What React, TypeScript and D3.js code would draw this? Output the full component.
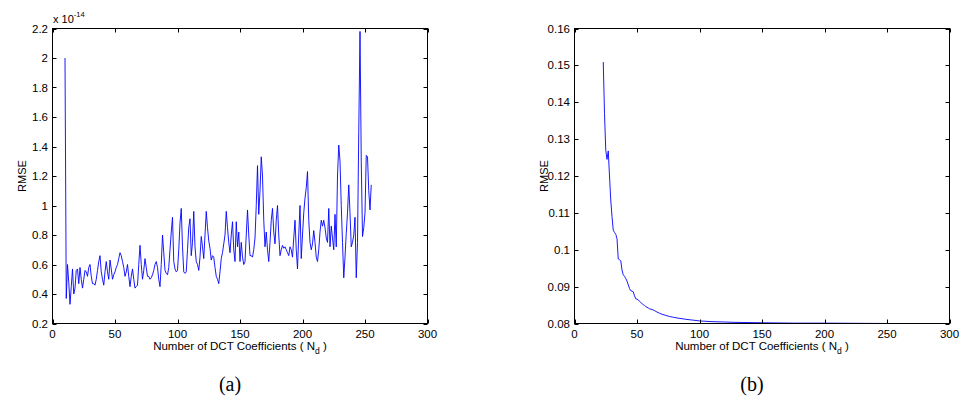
import { useEffect, useRef } from "react";
import * as d3 from "d3";

// panel (a): RMSE (x 1e-14) for N_d = 10 .. 255
const ndAStart = 10;
const rmseA = [
  2.0, 0.37, 0.6, 0.48, 0.33, 0.45, 0.57, 0.4, 0.44, 0.56, // 10-19
  0.57, 0.47, 0.58, 0.5, 0.44, 0.5, 0.56, 0.55, 0.52, 0.58, // 20-29
  0.6, 0.52, 0.47, 0.47, 0.46, 0.5, 0.56, 0.62, 0.66, 0.55, // 30-39
  0.5, 0.46, 0.55, 0.62, 0.55, 0.5, 0.63, 0.57, 0.5, 0.53, // 40-49
  0.55, 0.58, 0.6, 0.64, 0.68, 0.66, 0.62, 0.58, 0.52, 0.55, // 50-59
  0.6, 0.52, 0.45, 0.52, 0.57, 0.5, 0.44, 0.45, 0.46, 0.6, // 60-69
  0.73, 0.6, 0.5, 0.56, 0.64, 0.58, 0.52, 0.52, 0.5, 0.51, // 70-79
  0.53, 0.56, 0.6, 0.62, 0.58, 0.5, 0.45, 0.6, 0.8, 0.68, // 80-89
  0.56, 0.54, 0.53, 0.58, 0.7, 0.82, 0.92, 0.62, 0.57, 0.55, // 90-99
  0.56, 0.7, 0.88, 0.98, 0.72, 0.55, 0.54, 0.55, 0.7, 0.85, // 100-109
  0.91, 0.66, 0.75, 0.96, 0.72, 0.62, 0.6, 0.56, 0.65, 0.79, // 110-119
  0.72, 0.64, 0.8, 0.96, 0.85, 0.76, 0.71, 0.63, 0.66, 0.65, // 120-129
  0.58, 0.52, 0.5, 0.47, 0.55, 0.64, 0.68, 0.74, 0.8, 0.96, // 130-139
  0.85, 0.75, 0.68, 0.8, 0.89, 0.7, 0.62, 0.89, 0.72, 0.82, // 140-149
  0.62, 0.75, 0.65, 0.6, 0.62, 0.8, 0.97, 0.8, 0.66, 0.66, // 150-159
  0.65, 0.7, 0.78, 1.0, 1.27, 0.94, 1.1, 1.33, 1.2, 0.9, // 160-169
  0.72, 0.82, 0.7, 0.62, 0.75, 0.9, 0.98, 0.82, 0.74, 0.9, // 170-179
  1.0, 0.8, 0.66, 0.7, 0.73, 0.71, 0.72, 0.7, 0.68, 0.66, // 180-189
  0.72, 0.7, 0.65, 0.78, 0.9, 0.7, 0.57, 0.8, 1.0, 0.64, // 190-199
  0.8, 0.95, 1.05, 1.12, 1.23, 0.9, 0.75, 0.7, 0.74, 0.83, // 200-209
  0.75, 0.65, 0.62, 0.7, 0.82, 0.9, 0.86, 0.9, 0.85, 0.78, // 210-219
  0.75, 0.98, 0.72, 0.86, 0.78, 0.7, 0.94, 0.72, 1.2, 1.41, // 220-229
  1.3, 1.0, 0.75, 0.51, 0.65, 0.81, 0.95, 1.14, 0.95, 0.72, // 230-239
  0.75, 0.8, 0.92, 0.51, 0.75, 1.5, 2.18, 1.3, 0.79, 0.85, // 240-249
  0.95, 1.34, 1.33, 1.1, 0.97, 1.14, // 250-255
];
const ndA = rmseA.map((_, i) => ndAStart + i);

// panel (b)
const ndB = [
  23, 24, 25, 26, 27, 28, 29, 30, 31, 32, 33, 34, 35, 36, 37, 38, 39, 40, 41,
  42, 43, 44, 45, 46, 47, 48, 49, 50, 51, 52, 53, 54, 55, 56, 57, 58, 59, 60,
  62, 64, 66, 68, 70, 73, 76, 79, 82, 86, 90, 95, 100, 110, 120, 130, 150, 175,
  200, 225, 254,
];
const rmseB = [
  0.1509, 0.137, 0.127, 0.1245, 0.1268, 0.12, 0.1135, 0.109, 0.1053, 0.1047,
  0.1042, 0.103, 0.0975, 0.0973, 0.097, 0.0945, 0.0932, 0.0928, 0.0922, 0.0915,
  0.0905, 0.0895, 0.0889, 0.0888, 0.0886, 0.0875, 0.0867, 0.0866, 0.0864, 0.086,
  0.0857, 0.0854, 0.0851, 0.0849, 0.0846, 0.0844, 0.0842, 0.084,
  0.0838, 0.0835, 0.0831, 0.0828, 0.0825, 0.0822, 0.0819, 0.0817, 0.0815,
  0.0813, 0.0811, 0.0809, 0.0807, 0.0805, 0.0804, 0.0803, 0.0802, 0.0801,
  0.0801, 0.08005, 0.08,
];

const xTicks = [0, 50, 100, 150, 200, 250, 300];
const yTicksA = [0.2, 0.4, 0.6, 0.8, 1, 1.2, 1.4, 1.6, 1.8, 2, 2.2];
const yTicksB = [0.08, 0.09, 0.1, 0.11, 0.12, 0.13, 0.14, 0.15, 0.16];

const FONT = "'Liberation Sans', Arial, Helvetica, sans-serif";
const TOP = 28.5;
const BOTTOM = 323.5;
const TICK = 4;

const drawPanel = (svg, opts) => {
  const { left, right, yDomain, yTicks, xs, ys, tag } = opts;
  const x = d3.scaleLinear().domain([0, 300]).range([left, right]);
  const y = d3.scaleLinear().domain(yDomain).range([BOTTOM, TOP]);
  const g = svg.append("g");
  const fmt = d3.format("~g");

  const line = d3
    .line()
    .x((d) => x(d[0]))
    .y((d) => y(d[1]));
  g.append("path")
    .datum(d3.zip(xs, ys))
    .attr("fill", "none")
    .attr("stroke", "#0000ff")
    .attr("stroke-width", 0.9)
    .attr("d", line);

  g.append("rect")
    .attr("x", left)
    .attr("y", TOP)
    .attr("width", right - left)
    .attr("height", BOTTOM - TOP)
    .attr("fill", "none")
    .attr("stroke", "#000")
    .attr("stroke-width", 1);

  const ticks = g.append("g").attr("stroke", "#000").attr("stroke-width", 1);
  ticks
    .selectAll("line.xb")
    .data(xTicks)
    .join("line")
    .attr("class", "xb")
    .attr("x1", (d) => Math.round(x(d)) + 0.5)
    .attr("x2", (d) => Math.round(x(d)) + 0.5)
    .attr("y1", BOTTOM)
    .attr("y2", BOTTOM - TICK);
  ticks
    .selectAll("line.xt")
    .data(xTicks)
    .join("line")
    .attr("class", "xt")
    .attr("x1", (d) => Math.round(x(d)) + 0.5)
    .attr("x2", (d) => Math.round(x(d)) + 0.5)
    .attr("y1", TOP)
    .attr("y2", TOP + TICK);
  ticks
    .selectAll("line.yl")
    .data(yTicks)
    .join("line")
    .attr("class", "yl")
    .attr("x1", left)
    .attr("x2", left + TICK)
    .attr("y1", (d) => Math.round(y(d)) + 0.5)
    .attr("y2", (d) => Math.round(y(d)) + 0.5);
  ticks
    .selectAll("line.yr")
    .data(yTicks)
    .join("line")
    .attr("class", "yr")
    .attr("x1", right)
    .attr("x2", right - TICK)
    .attr("y1", (d) => Math.round(y(d)) + 0.5)
    .attr("y2", (d) => Math.round(y(d)) + 0.5);

  const labels = g
    .append("g")
    .attr("font-family", FONT)
    .attr("font-size", 11.5)
    .attr("fill", "#000");
  labels
    .selectAll("text.xl")
    .data(xTicks)
    .join("text")
    .attr("class", "xl")
    .attr("x", (d) => x(d))
    .attr("y", BOTTOM + 14.5)
    .attr("text-anchor", "middle")
    .text((d) => fmt(d));
  labels
    .selectAll("text.yl")
    .data(yTicks)
    .join("text")
    .attr("class", "yl")
    .attr("x", left - 4.5)
    .attr("y", (d) => y(d) + 4)
    .attr("text-anchor", "end")
    .text((d) => fmt(d));

  // x label with subscript
  const xl = labels
    .append("text")
    .attr("x", (left + right) / 2)
    .attr("y", 350)
    .attr("text-anchor", "middle");
  xl.append("tspan").text("Number of DCT Coefficients ( N");
  xl.append("tspan").attr("dy", 4).attr("font-size", 8.5).text("d");
  xl.append("tspan").attr("dy", -4).text(" )");

  labels
    .append("text")
    .attr("transform", `translate(${left - 27},${(TOP + BOTTOM) / 2}) rotate(-90)`)
    .attr("text-anchor", "middle")
    .attr("font-size", 11)
    .text("RMSE");

  svg
    .append("text")
    .attr("x", (left + right) / 2 - 10)
    .attr("y", 391)
    .attr("text-anchor", "middle")
    .attr("font-family", "'Liberation Serif', 'Times New Roman', serif")
    .attr("font-size", 20)
    .text(tag);

  return g;
};

const App = () => {
  const ref = useRef(null);

  useEffect(() => {
    document.body.style.margin = "0";
    const svg = d3.select(ref.current);
    svg.selectAll("*").remove();

    drawPanel(svg, {
      left: 52.5,
      right: 427.5,
      yDomain: [0.2, 2.2],
      yTicks: yTicksA,
      xs: ndA,
      ys: rmseA,
      tag: "(a)",
    });
    drawPanel(svg, {
      left: 574.5,
      right: 949.5,
      yDomain: [0.08, 0.16],
      yTicks: yTicksB,
      xs: ndB,
      ys: rmseB,
      tag: "(b)",
    });

    // exponent label of panel (a)
    const ex = svg
      .append("text")
      .attr("x", 53)
      .attr("y", 22.5)
      .attr("font-family", FONT)
      .attr("font-size", 11);
    ex.append("tspan").text("x 10");
    ex.append("tspan").attr("dy", -6).attr("font-size", 7.5).text("-14");
  }, []);

  return (
    <svg
      ref={ref}
      width={967}
      height={402}
      style={{ display: "block", background: "#fff" }}
    />
  );
};

export default App;
